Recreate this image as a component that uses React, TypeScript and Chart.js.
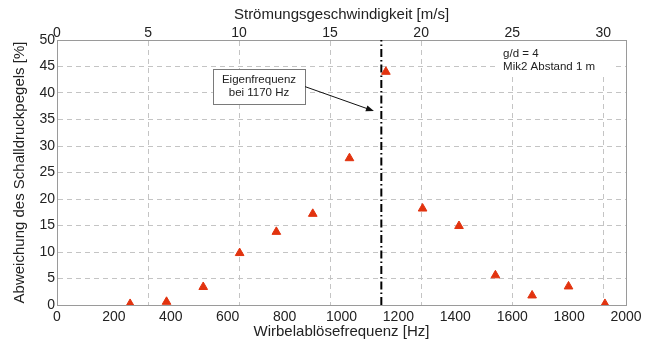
import React, { useEffect, useRef } from "react";
import { Chart, registerables } from "chart.js";

Chart.register(...registerables);

const frequencyHz = [257, 385, 514, 642, 771, 899, 1028, 1156, 1285, 1413, 1541, 1670, 1798, 1926];
const deviationPct = [0.2, 0.6, 3.4, 9.8, 13.8, 17.2, 27.7, 44.0, 18.2, 14.9, 5.6, 1.8, 3.5, 0.2];
const eigenLineHz = 1140;
const xTicks = [0, 200, 400, 600, 800, 1000, 1200, 1400, 1600, 1800, 2000];
const topTicks = [0, 5, 10, 15, 20, 25, 30];
const yTicks = [0, 5, 10, 15, 20, 25, 30, 35, 40, 45, 50];
const topMax = 31.25;

const FONT = "'Liberation Sans', Arial, sans-serif";
const TXT = "#222222";
const GRID = "#c4c4c4";
const BOX = "#9a9a9a";

const plainLabel = (v: any) => String(v);

const annotationPlugin = {
  id: "annot",
  afterDraw(chart: any) {
    const { ctx } = chart;
    const x = chart.scales.x;
    const y = chart.scales.y;
    ctx.save();
    // annotation box
    const bx0 = x.getPixelForValue(548);
    const bx1 = x.getPixelForValue(872);
    const by0 = y.getPixelForValue(44.5);
    const by1 = y.getPixelForValue(37.9);
    ctx.fillStyle = "#ffffff";
    ctx.fillRect(bx0, by0, bx1 - bx0, by1 - by0);
    ctx.strokeStyle = "#7a7a7a";
    ctx.lineWidth = 1;
    ctx.strokeRect(Math.round(bx0) + 0.5, Math.round(by0) + 0.5, Math.round(bx1 - bx0), Math.round(by1 - by0));
    ctx.fillStyle = TXT;
    ctx.font = `11.5px ${FONT}`;
    ctx.textAlign = "center";
    ctx.textBaseline = "middle";
    const cx = (bx0 + bx1) / 2;
    ctx.fillText("Eigenfrequenz", cx, y.getPixelForValue(42.4));
    ctx.fillText("bei 1170 Hz", cx, y.getPixelForValue(40.0));
    // arrow
    const ax0 = bx1;
    const ay0 = y.getPixelForValue(41.2);
    const ax1 = x.getPixelForValue(1114);
    const ay1 = y.getPixelForValue(36.6);
    const ang = Math.atan2(ay1 - ay0, ax1 - ax0);
    ctx.strokeStyle = "#111111";
    ctx.lineWidth = 1;
    ctx.beginPath();
    ctx.moveTo(ax0, ay0);
    ctx.lineTo(ax1 - 6 * Math.cos(ang), ay1 - 6 * Math.sin(ang));
    ctx.stroke();
    ctx.fillStyle = "#111111";
    ctx.beginPath();
    ctx.moveTo(ax1, ay1);
    ctx.lineTo(ax1 - 8 * Math.cos(ang) + 3 * Math.sin(ang), ay1 - 8 * Math.sin(ang) - 3 * Math.cos(ang));
    ctx.lineTo(ax1 - 8 * Math.cos(ang) - 3 * Math.sin(ang), ay1 - 8 * Math.sin(ang) + 3 * Math.cos(ang));
    ctx.closePath();
    ctx.fill();
    // legend text on white background
    const lx0 = x.getPixelForValue(1545);
    const lx1 = x.getPixelForValue(1955);
    const ly0 = y.getPixelForValue(49.8);
    const ly1 = y.getPixelForValue(43.3);
    ctx.fillStyle = "#ffffff";
    ctx.fillRect(lx0, ly0, lx1 - lx0, ly1 - ly0);
    ctx.fillStyle = TXT;
    ctx.textAlign = "left";
    const lx = x.getPixelForValue(1568);
    ctx.fillText("g/d = 4", lx, y.getPixelForValue(47.4));
    ctx.fillText("Mik2 Abstand 1 m", lx, y.getPixelForValue(45.0));
    ctx.restore();
  },
};

export default function App() {
  const ref = useRef<HTMLCanvasElement | null>(null);
  useEffect(() => {
    if (!ref.current) return;
    const points = frequencyHz.map((f, i) => ({ x: f, y: deviationPct[i] }));
    const tickFont = { family: FONT, size: 14, lineHeight: 1 };
    const titleFont = { family: FONT, size: 15, lineHeight: 1.2 };
    const chart = new Chart(ref.current, {
      type: "scatter",
      data: {
        datasets: [
          {
            label: "Abweichung",
            data: points,
            pointStyle: "triangle",
            pointRadius: 5,
            backgroundColor: "#e2330f",
            borderColor: "#e2330f",
            borderWidth: 1,
            showLine: false,
            xAxisID: "x",
            yAxisID: "y",
          },
          {
            type: "line",
            label: "Eigenfrequenz",
            data: [
              { x: eigenLineHz, y: 0 },
              { x: eigenLineHz, y: 50 },
            ],
            borderColor: "#000000",
            borderWidth: 2,
            borderDash: [8, 3, 1.5, 3],
            pointRadius: 0,
            fill: false,
            xAxisID: "x",
            yAxisID: "y",
          } as any,
        ],
      },
      options: {
        animation: false,
        responsive: false,
        maintainAspectRatio: false,
        layout: { padding: { left: 0, right: 30, top: 0, bottom: 0 } },
        plugins: { legend: { display: false }, tooltip: { enabled: false } },
        scales: {
          x: {
            type: "linear",
            position: "bottom",
            min: 0,
            max: 2000,
            afterBuildTicks: (s: any) => {
              s.ticks = xTicks.map((v) => ({ value: v }));
            },
            afterFit: (s: any) => {
              s.height = 40;
              s.paddingLeft = 0;
              s.paddingRight = 0;
            },
            ticks: { color: TXT, font: tickFont, padding: 5, maxRotation: 0, autoSkip: false, callback: plainLabel },
            grid: { display: false, drawTicks: false },
            border: { display: true, color: BOX, width: 1 },
            title: {
              display: true,
              text: "Wirbelablösefrequenz [Hz]",
              color: TXT,
              font: titleFont,
              padding: { top: 0, bottom: 4 },
            },
          },
          x2: {
            type: "linear",
            position: "top",
            min: 0,
            max: topMax,
            afterBuildTicks: (s: any) => {
              s.ticks = topTicks.map((v) => ({ value: v }));
            },
            afterFit: (s: any) => {
              s.height = 40;
              s.paddingLeft = 0;
              s.paddingRight = 0;
            },
            ticks: { color: TXT, font: tickFont, padding: 0, maxRotation: 0, autoSkip: false, callback: plainLabel },
            grid: { display: true, drawTicks: false, color: GRID, lineWidth: 1 },
            border: { display: true, color: BOX, width: 1, dash: [5, 4] },
            title: {
              display: true,
              text: "Strömungsgeschwindigkeit [m/s]",
              color: TXT,
              font: titleFont,
              padding: { top: 6, bottom: 0 },
            },
          },
          y: {
            type: "linear",
            position: "left",
            min: 0,
            max: 50,
            afterBuildTicks: (s: any) => {
              s.ticks = yTicks.map((v) => ({ value: v }));
            },
            afterFit: (s: any) => {
              s.width = 57;
              s.paddingTop = 0;
              s.paddingBottom = 0;
            },
            ticks: { color: TXT, font: tickFont, padding: 2, autoSkip: false, callback: plainLabel },
            grid: { display: true, drawTicks: false, color: GRID, lineWidth: 1 },
            border: { display: true, color: BOX, width: 1, dash: [5, 4] },
            title: {
              display: true,
              text: "Abweichung des Schalldruckpegels [%]",
              color: TXT,
              font: titleFont,
              padding: { top: 11, bottom: 0 },
            },
          },
          y2: {
            type: "linear",
            position: "right",
            min: 0,
            max: 50,
            afterFit: (s: any) => {
              s.width = 0;
              s.paddingTop = 0;
              s.paddingBottom = 0;
            },
            ticks: { display: false },
            grid: { display: false, drawTicks: false },
            border: { display: true, color: BOX, width: 1 },
          },
        },
      },
      plugins: [annotationPlugin],
    });
    return () => chart.destroy();
  }, []);
  return (
    <div style={{ position: "absolute", left: 0, top: 0, width: 656, height: 345, background: "#ffffff" }}>
      <canvas ref={ref} width={656} height={345} style={{ display: "block" }} />
    </div>
  );
}
